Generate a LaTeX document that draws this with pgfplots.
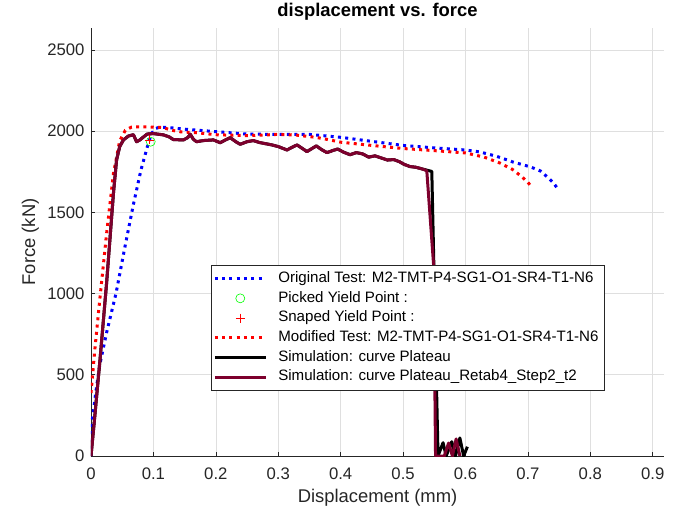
\documentclass[border=0pt]{standalone}
\usepackage{pgfplots}
\pgfplotsset{compat=1.18}
\usepackage{fontspec}
\setmainfont{Liberation Sans}
\definecolor{axgray}{RGB}{38,38,38}
\definecolor{gridgray}{RGB}{223,223,223}
\definecolor{maroon}{RGB}{125,0,45}
\definecolor{legborder}{RGB}{38,38,38}
\pgfplotsset{
  linelegend/.style={legend image code/.code={\draw[##1] (4pt,0pt) -- (55pt,0pt);}},
  marklegend/.style={legend image code/.code={\draw[##1] plot coordinates {(29.5pt,0pt)};}},
}
\begin{document}
\begin{tikzpicture}
\useasboundingbox (-91pt,-56pt) rectangle (595pt,456pt);
\begin{axis}[
  scale only axis,
  width=573pt, height=428pt,
  at={(0pt,0pt)}, anchor=south west,
  xmin=0, xmax=0.918, ymin=0, ymax=2635,
  axis lines*=left,
  axis line style={axgray, line width=0.6pt, -},
  tick style={axgray, line width=0.6pt},
  tick align=inside,
  major tick length=4.5pt,
  grid=major,
  major grid style={gridgray, line width=0.6pt},
  xtick={0,0.1,...,0.9},
  ytick={0,500,1000,1500,2000,2500},
  scaled ticks=false,
  /pgf/number format/assume math mode=true,
  /pgf/number format/1000 sep={},
  ticklabel style={font=\fontsize{16.7}{20}\selectfont, text=axgray},
  xticklabel style={yshift=-8pt},
  yticklabel style={xshift=-3pt},
  title={displacement vs. force},
  title style={at={(rel axis cs:0.5,1.013)}, anchor=base, font=\bfseries\fontsize{18.4}{22}\selectfont},
  xlabel={Displacement (mm)},
  xlabel style={at={(rel axis cs:0.5,-0.1098)}, anchor=base, font=\fontsize{18.4}{22}\selectfont, text=axgray},
  ylabel={Force (kN)},
  ylabel style={at={(rel axis cs:-0.0977,0.5)}, anchor=base, rotate=0, font=\fontsize{18.4}{22}\selectfont, text=axgray},
  legend style={at={(rel axis cs:0.2094,0.4463)}, anchor=north west,
    draw=legborder, line width=0.6pt, fill=white,
    font=\fontsize{15.1}{18}\selectfont,
    inner xsep=2pt, inner ysep=3.5pt, column sep=7pt,
    nodes={inner ysep=2.6pt, inner xsep=4pt, text height=11pt, text depth=3.5pt}},
  legend cell align=left,
]
% Original test
\addplot[blue, line width=3pt, dash pattern=on 3pt off 4.3pt, linelegend] coordinates {
(0,0) (0.002,220) (0.008,400) (0.014,560) (0.025,760) (0.04,1000) (0.055,1300)
(0.068,1550) (0.08,1760) (0.09,1900) (0.097,1985) (0.103,2015) (0.11,2025)
(0.13,2020) (0.15,2012) (0.2,1997) (0.25,1982) (0.3,1980) (0.35,1980)
(0.4,1962) (0.45,1937) (0.5,1912) (0.55,1897) (0.6,1884) (0.623,1872)
(0.65,1845) (0.676,1810) (0.704,1780) (0.72,1755) (0.731,1718) (0.74,1685) (0.747,1650)
};
\addlegendentry{Original Test: M2-TMT-P4-SG1-O1-SR4-T1-N6}
% Picked yield point
\addplot[only marks, mark=o, mark size=4.5pt, color=green, line width=0.6pt, marklegend] coordinates {(0.0957,1935)};
\addlegendentry{Picked Yield Point :}
% Snaped yield point
\addplot[only marks, mark=+, mark size=4.5pt, color=red, line width=0.6pt, marklegend] coordinates {(0.093,1946)};
\addlegendentry{Snaped Yield Point :}
% Modified test
\addplot[red, line width=3pt, dash pattern=on 3pt off 4.3pt, linelegend] coordinates {
(0,388) (0.006,650) (0.014,960) (0.025,1370) (0.036,1740) (0.046,1940)
(0.055,2005) (0.065,2025) (0.08,2027) (0.1,2025) (0.115,2022) (0.13,2005)
(0.145,1995) (0.17,1990) (0.2,1978) (0.25,1972) (0.3,1980) (0.33,1975)
(0.36,1962) (0.38,1948) (0.4,1932) (0.45,1912) (0.5,1893) (0.55,1880)
(0.6,1866) (0.63,1840) (0.655,1804) (0.675,1765) (0.69,1720) (0.70,1685) (0.707,1650)
};
\addlegendentry{Modified Test: M2-TMT-P4-SG1-O1-SR4-T1-N6}
% Simulation: curve Plateau
\addplot[black, line width=3pt, line join=round, linelegend] coordinates {
(0,0) (0.005,200) (0.0144,591) (0.025,1065) (0.036,1619) (0.041,1823)
(0.046,1905) (0.052,1946) (0.060,1970) (0.068,1978) (0.073,1935) (0.078,1945)
(0.084,1964) (0.090,1982) (0.1,1985) (0.116,1977) (0.125,1965) (0.132,1948)
(0.148,1946) (0.155,1960) (0.159,1981) (0.164,1950) (0.169,1935) (0.18,1942)
(0.196,1946) (0.207,1929) (0.215,1945) (0.223,1960) (0.232,1935) (0.239,1919)
(0.25,1935) (0.26,1942) (0.27,1930) (0.282,1921) (0.29,1915) (0.30,1905)
(0.314,1884) (0.322,1900) (0.33,1915) (0.338,1895) (0.346,1874) (0.354,1893)
(0.361,1909) (0.37,1885) (0.378,1868) (0.387,1880) (0.395,1890) (0.405,1870)
(0.415,1855) (0.425,1868) (0.435,1860) (0.445,1840) (0.455,1848) (0.465,1835)
(0.475,1822) (0.485,1825) (0.494,1812) (0.502,1795) (0.511,1782) (0.52,1778)
(0.528,1770) (0.535,1763) (0.546,1752) (0.556,0) (0.564,82) (0.569,0)
(0.578,88) (0.584,0) (0.591,111) (0.597,0) (0.603,57)
};
\addlegendentry{Simulation: curve Plateau}
% Simulation: curve Plateau_Retab4_Step2_t2
\addplot[maroon, line width=3pt, line join=round, linelegend] coordinates {
(0,0) (0.005,200) (0.0144,591) (0.025,1065) (0.036,1619) (0.041,1823)
(0.046,1905) (0.052,1946) (0.060,1970) (0.068,1978) (0.073,1935) (0.078,1945)
(0.084,1964) (0.090,1982) (0.1,1985) (0.116,1977) (0.125,1965) (0.132,1948)
(0.148,1946) (0.155,1960) (0.159,1981) (0.164,1950) (0.169,1935) (0.18,1942)
(0.196,1946) (0.207,1929) (0.215,1945) (0.223,1960) (0.232,1935) (0.239,1919)
(0.25,1935) (0.26,1942) (0.27,1930) (0.282,1921) (0.29,1915) (0.30,1905)
(0.314,1884) (0.322,1900) (0.33,1915) (0.338,1895) (0.346,1874) (0.354,1893)
(0.361,1909) (0.37,1885) (0.378,1868) (0.387,1880) (0.395,1890) (0.405,1870)
(0.415,1855) (0.425,1868) (0.435,1860) (0.445,1840) (0.455,1848) (0.465,1835)
(0.475,1822) (0.485,1825) (0.494,1812) (0.502,1795) (0.511,1782) (0.52,1778)
(0.528,1770) (0.535,1761) (0.538,1755) (0.549,1170) (0.552,0) (0.566,0)
(0.573,80) (0.579,0) (0.585,105) (0.591,0)
};
\addlegendentry{Simulation: curve Plateau\_Retab4\_Step2\_t2}
\end{axis}
\end{tikzpicture}
\end{document}
